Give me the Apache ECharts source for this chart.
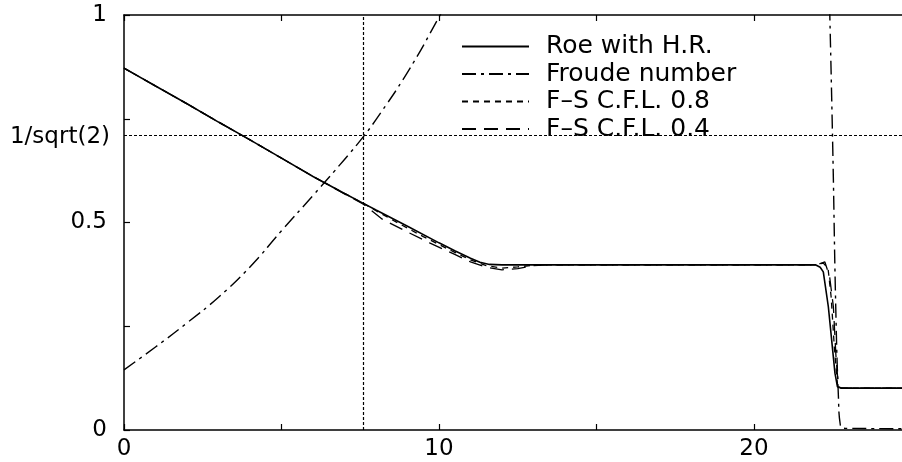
<!DOCTYPE html>
<html>
<head>
<meta charset="utf-8">
<script src="https://cdn.jsdelivr.net/npm/echarts@6/dist/echarts.min.js"></script>
<style>
html,body{margin:0;padding:0;background:#fff;}
#chart{width:902px;height:462px;}
</style>
</head>
<body>
<div id="chart"></div>
<script>
// ---- data ----
const seriesNames = ['Roe with H.R.', 'Froude number', 'F\u2013S C.F.L. 0.8', 'F\u2013S C.F.L. 0.4'];

const roe = [
  [0,0.872],[1,0.829],[2,0.786],[3,0.742],[4,0.699],[5,0.655],[6,0.611],[7,0.570],
  [7.6,0.546],[8,0.530],[9,0.491],[10,0.451],[10.5,0.432],[11,0.414],[11.3,0.404],
  [11.6,0.399],[12,0.398],[16,0.398],[21.95,0.398],[22.1,0.392],[22.2,0.381],
  [22.36,0.297],[22.57,0.137],[22.65,0.104],[22.75,0.101],[25,0.101]
];

const froude = [
  [0,0.145],[1,0.200],[2,0.258],[3,0.320],[4,0.393],[5,0.480],[6,0.565],[7,0.652],
  [7.6,0.707],[8,0.748],[9,0.862],[10,0.995],[10.3,1.04],[10.31,null],
  [22.40,1.02],[22.5,0.68],[22.6,0.28],[22.68,0.08],[22.74,0.012],[22.9,0.004],[25,0.003]
];

const fs08 = [
  [0,0.872],[1,0.829],[2,0.786],[3,0.742],[4,0.699],[5,0.655],[6,0.611],[7,0.570],
  [7.6,0.546],[8.5,0.507],[9.5,0.466],[10.5,0.428],[11,0.410],[11.5,0.396],[12,0.390],
  [12.5,0.393],[13,0.397],[13.5,0.398],[21.95,0.398],[22.2,0.402],[22.35,0.390],
  [22.45,0.320],[22.55,0.200],[22.65,0.110],[22.75,0.101],[25,0.101]
];

const fs04 = [
  [0,0.872],[1,0.829],[2,0.786],[3,0.742],[4,0.699],[5,0.655],[6,0.611],[7,0.569],
  [7.6,0.544],[8.2,0.508],[9,0.477],[9.7,0.451],[10.5,0.423],[11,0.405],[11.5,0.392],
  [12,0.386],[12.5,0.389],[13,0.396],[13.5,0.398],[22.0,0.398],[22.25,0.405],
  [22.4,0.370],[22.52,0.297],[22.6,0.180],[22.68,0.104],[22.8,0.101],[25,0.101]
];

const xCritical = 7.59;                 // vertical dotted reference line
const yCritical = 1 / Math.SQRT2;       // horizontal dotted reference line
const yCriticalLabel = '1/sqrt(2)';
const xTickLabels = {0:'0', 10:'10', 20:'20'};
const yTickLabels = {0:'0', 0.5:'0.5', 1:'1'};

// ---- chart ----
const FONT = 'DejaVu Sans';
const chart = echarts.init(document.getElementById('chart'), null, {renderer:'canvas'});

const axisLineStyle = {color:'#000', width:1.5};
const tickStyle = {color:'#000', width:1.2};

chart.setOption({
  animation:false,
  backgroundColor:'#fff',
  grid:{left:124, top:15, width:787.5, height:415, containLabel:false, outerBoundsMode:'none'},
  legend:{
    orient:'vertical', left:461, top:34, padding:0,
    itemWidth:67, itemHeight:14, itemGap:2.5,
    data:seriesNames,
    itemStyle:{color:'rgba(0,0,0,0)', borderWidth:0, opacity:0},
    textStyle:{fontFamily:FONT, fontSize:25, color:'#000', padding:[0,0,0,12]}
  },
  xAxis:[{
    type:'value', position:'bottom', min:0, max:25, interval:5,
    axisLine:{show:true, onZero:false, lineStyle:axisLineStyle},
    axisTick:{show:true, inside:true, length:6, lineStyle:tickStyle},
    axisLabel:{show:true, margin:8, fontFamily:FONT, fontSize:23, color:'#000',
      formatter:v => (xTickLabels[v] !== undefined ? xTickLabels[v] : '')},
    splitLine:{show:false}
  },{
    type:'value', position:'top', min:0, max:25, interval:5,
    axisLine:{show:true, onZero:false, lineStyle:axisLineStyle},
    axisTick:{show:true, inside:true, length:6, lineStyle:tickStyle},
    axisLabel:{show:false}, splitLine:{show:false}
  }],
  yAxis:[{
    type:'value', position:'left', min:0, max:1, interval:0.25,
    axisLine:{show:true, onZero:false, lineStyle:axisLineStyle},
    axisTick:{show:true, inside:true, length:6, lineStyle:tickStyle},
    axisLabel:{show:true, margin:17, fontFamily:FONT, fontSize:23, color:'#000',
      formatter:v => (yTickLabels[v] !== undefined ? yTickLabels[v] : '')},
    splitLine:{show:false}
  },{
    type:'value', position:'left', min:0, max:1, interval:yCritical,
    axisLine:{show:false}, axisTick:{show:false}, splitLine:{show:false},
    axisLabel:{show:true, margin:14, fontFamily:FONT, fontSize:23, color:'#000',
      showMinLabel:false, showMaxLabel:false,
      formatter:v => (Math.abs(v - yCritical) < 1e-4 ? yCriticalLabel : '')}
  }],
  series:[{
    name:seriesNames[0], type:'line', data:roe, showSymbol:false, symbol:'none',
    smooth:false, clip:true, z:5,
    lineStyle:{color:'#000', width:1.6, type:'solid'},
    itemStyle:{color:'#000'},
    markLine:{
      silent:true, symbol:'none', animation:false,
      label:{show:false},
      lineStyle:{color:'#000', width:1.2, type:[3,2]},
      data:[{xAxis:xCritical},{yAxis:yCritical}]
    }
  },{
    name:seriesNames[1], type:'line', data:froude, showSymbol:false, symbol:'none',
    smooth:0.5, clip:true, connectNulls:false, z:4,
    lineStyle:{color:'#000', width:1.4, type:[14,5,3,5]},
    itemStyle:{color:'#000'}
  },{
    name:seriesNames[2], type:'line', data:fs08, showSymbol:false, symbol:'none',
    smooth:false, clip:true, z:4,
    lineStyle:{color:'#000', width:1.3, type:[6,5]},
    itemStyle:{color:'#000'}
  },{
    name:seriesNames[3], type:'line', data:fs04, showSymbol:false, symbol:'none',
    smooth:false, clip:true, z:4,
    lineStyle:{color:'#000', width:1.3, type:[14,8]},
    itemStyle:{color:'#000'}
  }]
});
</script>
</body>
</html>
